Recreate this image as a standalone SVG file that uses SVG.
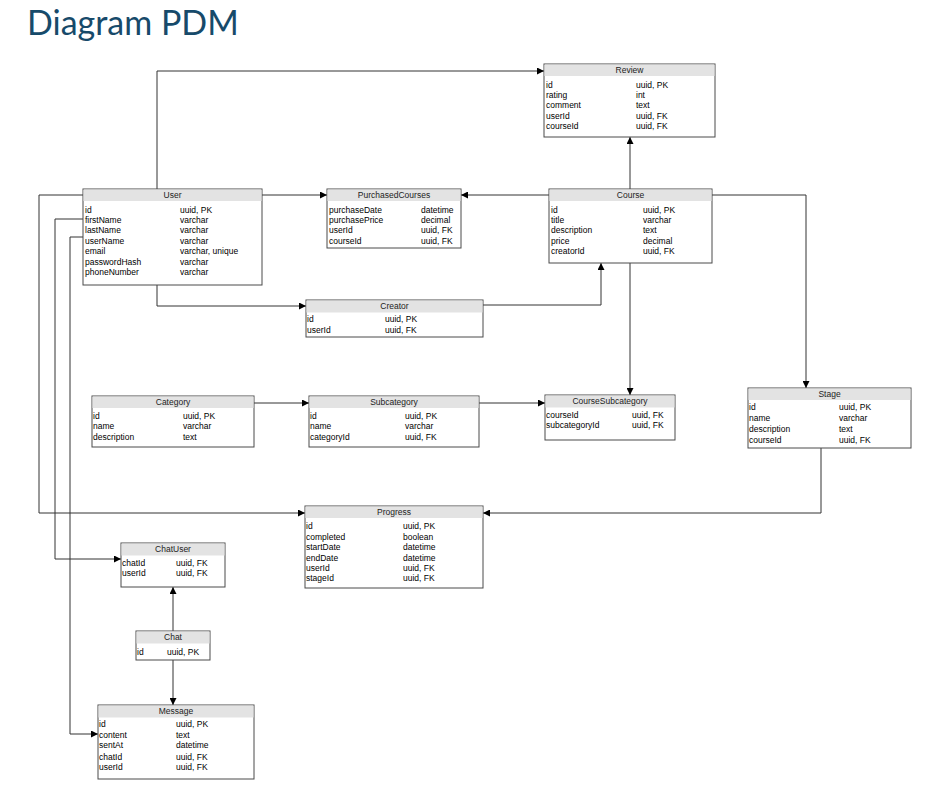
<svg xmlns="http://www.w3.org/2000/svg" width="935" height="796" viewBox="0 0 935 796">
<defs>
<marker id="arr" viewBox="0 0 10 10" refX="10" refY="5" markerWidth="7" markerHeight="7" markerUnits="userSpaceOnUse" orient="auto">
<path d="M0,0 L10,5 L0,10 z" fill="#000"/>
</marker>
<style>
.box{fill:#fff;stroke:#4a4a4a;stroke-width:1}
.hdr{fill:#e3e3e3;stroke:none}
.t{font-family:"Liberation Sans",Arial,sans-serif;font-size:8.5px;fill:#000}
.h{font-family:"Liberation Sans",Arial,sans-serif;font-size:8.5px;fill:#222;text-anchor:middle}
.c{fill:none;stroke:#333;stroke-width:1;marker-end:url(#arr)}
</style>
</defs>
<rect width="935" height="796" fill="#fff"/>
<text x="27" y="34.5" font-family="Lato,'Open Sans',sans-serif" font-size="34" fill="#174a6a">Diagram PDM</text>

<g id="connectors">
<path class="c" d="M157,189 V71 H544"/>
<path class="c" d="M262,195 H327"/>
<path class="c" d="M549,195 H461"/>
<path class="c" d="M630,189 V137"/>
<path class="c" d="M712,195 H806 V388"/>
<path class="c" d="M630,263 V395"/>
<path class="c" d="M483,305 H601 V263"/>
<path class="c" d="M157,285 V306 H306"/>
<path class="c" d="M254,403 H309"/>
<path class="c" d="M479,403 H545"/>
<path class="c" d="M821,448 V513 H483"/>
<path class="c" d="M83,195 H39 V513 H305"/>
<path class="c" d="M83,219 H55 V559 H121"/>
<path class="c" d="M83,237 H70 V734 H98"/>
<path class="c" d="M173,631 V587"/>
<path class="c" d="M173,660 V705"/>
</g>

<g id="Review">
<rect class="box" x="544" y="64" width="171" height="73"/>
<rect class="hdr" x="544.5" y="64.5" width="170" height="11.5"/>
<text class="h" x="629.5" y="73">Review</text>
<text class="t" x="546" y="88">id</text><text class="t" x="636" y="88">uuid, PK</text>
<text class="t" x="546" y="98">rating</text><text class="t" x="636" y="98">int</text>
<text class="t" x="546" y="108">comment</text><text class="t" x="636" y="108">text</text>
<text class="t" x="546" y="119">userId</text><text class="t" x="636" y="119">uuid, FK</text>
<text class="t" x="546" y="129">courseId</text><text class="t" x="636" y="129">uuid, FK</text>
</g>

<g id="User">
<rect class="box" x="83" y="189" width="179" height="96"/>
<rect class="hdr" x="83.5" y="189.5" width="178" height="11.5"/>
<text class="h" x="172.5" y="198">User</text>
<text class="t" x="85" y="213">id</text><text class="t" x="180" y="213">uuid, PK</text>
<text class="t" x="85" y="223">firstName</text><text class="t" x="180" y="223">varchar</text>
<text class="t" x="85" y="233">lastName</text><text class="t" x="180" y="233">varchar</text>
<text class="t" x="85" y="244">userName</text><text class="t" x="180" y="244">varchar</text>
<text class="t" x="85" y="254">email</text><text class="t" x="180" y="254">varchar, unique</text>
<text class="t" x="85" y="265">passwordHash</text><text class="t" x="180" y="265">varchar</text>
<text class="t" x="85" y="275">phoneNumber</text><text class="t" x="180" y="275">varchar</text>
</g>

<g id="PurchasedCourses">
<rect class="box" x="327" y="189" width="134" height="59"/>
<rect class="hdr" x="327.5" y="189.5" width="133" height="11.5"/>
<text class="h" x="394" y="198">PurchasedCourses</text>
<text class="t" x="329" y="213">purchaseDate</text><text class="t" x="421" y="213">datetime</text>
<text class="t" x="329" y="223">purchasePrice</text><text class="t" x="421" y="223">decimal</text>
<text class="t" x="329" y="233">userId</text><text class="t" x="421" y="233">uuid, FK</text>
<text class="t" x="329" y="244">courseId</text><text class="t" x="421" y="244">uuid, FK</text>
</g>

<g id="Course">
<rect class="box" x="549" y="189" width="163" height="74"/>
<rect class="hdr" x="549.5" y="189.5" width="162" height="11.5"/>
<text class="h" x="630.5" y="198">Course</text>
<text class="t" x="551" y="213">id</text><text class="t" x="643" y="213">uuid, PK</text>
<text class="t" x="551" y="223">title</text><text class="t" x="643" y="223">varchar</text>
<text class="t" x="551" y="233">description</text><text class="t" x="643" y="233">text</text>
<text class="t" x="551" y="244">price</text><text class="t" x="643" y="244">decimal</text>
<text class="t" x="551" y="254">creatorId</text><text class="t" x="643" y="254">uuid, FK</text>
</g>

<g id="Creator">
<rect class="box" x="306" y="300" width="177" height="37"/>
<rect class="hdr" x="306.5" y="300.5" width="176" height="12"/>
<text class="h" x="394.5" y="309">Creator</text>
<text class="t" x="307" y="322">id</text><text class="t" x="385" y="322">uuid, PK</text>
<text class="t" x="307" y="333">userId</text><text class="t" x="385" y="333">uuid, FK</text>
</g>

<g id="Category">
<rect class="box" x="92" y="396" width="162" height="51"/>
<rect class="hdr" x="92.5" y="396.5" width="161" height="11.5"/>
<text class="h" x="173" y="405">Category</text>
<text class="t" x="93" y="419">id</text><text class="t" x="183" y="419">uuid, PK</text>
<text class="t" x="93" y="429">name</text><text class="t" x="183" y="429">varchar</text>
<text class="t" x="93" y="440">description</text><text class="t" x="183" y="440">text</text>
</g>

<g id="Subcategory">
<rect class="box" x="309" y="396" width="170" height="51"/>
<rect class="hdr" x="309.5" y="396.5" width="169" height="11.5"/>
<text class="h" x="394" y="405">Subcategory</text>
<text class="t" x="310" y="419">id</text><text class="t" x="405" y="419">uuid, PK</text>
<text class="t" x="310" y="429">name</text><text class="t" x="405" y="429">varchar</text>
<text class="t" x="310" y="440">categoryId</text><text class="t" x="405" y="440">uuid, FK</text>
</g>

<g id="CourseSubcategory">
<rect class="box" x="545" y="395" width="130" height="45"/>
<rect class="hdr" x="545.5" y="395.5" width="129" height="12"/>
<text class="h" x="610" y="404">CourseSubcategory</text>
<text class="t" x="546" y="418">courseId</text><text class="t" x="632" y="418">uuid, FK</text>
<text class="t" x="546" y="428">subcategoryId</text><text class="t" x="632" y="428">uuid, FK</text>
</g>

<g id="Stage">
<rect class="box" x="748" y="388" width="163" height="60"/>
<rect class="hdr" x="748.5" y="388.5" width="162" height="11.5"/>
<text class="h" x="829.5" y="397">Stage</text>
<text class="t" x="749" y="410">id</text><text class="t" x="839" y="410">uuid, PK</text>
<text class="t" x="749" y="421">name</text><text class="t" x="839" y="421">varchar</text>
<text class="t" x="749" y="432">description</text><text class="t" x="839" y="432">text</text>
<text class="t" x="749" y="443">courseId</text><text class="t" x="839" y="443">uuid, FK</text>
</g>

<g id="Progress">
<rect class="box" x="305" y="506" width="178" height="82"/>
<rect class="hdr" x="305.5" y="506.5" width="177" height="11.5"/>
<text class="h" x="394" y="515">Progress</text>
<text class="t" x="306" y="529">id</text><text class="t" x="403" y="529">uuid, PK</text>
<text class="t" x="306" y="540">completed</text><text class="t" x="403" y="540">boolean</text>
<text class="t" x="306" y="550">startDate</text><text class="t" x="403" y="550">datetime</text>
<text class="t" x="306" y="561">endDate</text><text class="t" x="403" y="561">datetime</text>
<text class="t" x="306" y="571">userId</text><text class="t" x="403" y="571">uuid, FK</text>
<text class="t" x="306" y="581">stageId</text><text class="t" x="403" y="581">uuid, FK</text>
</g>

<g id="ChatUser">
<rect class="box" x="121" y="543" width="104" height="44"/>
<rect class="hdr" x="121.5" y="543.5" width="103" height="12"/>
<text class="h" x="173" y="552">ChatUser</text>
<text class="t" x="122" y="566">chatId</text><text class="t" x="176" y="566">uuid, FK</text>
<text class="t" x="122" y="576">userId</text><text class="t" x="176" y="576">uuid, FK</text>
</g>

<g id="Chat">
<rect class="box" x="136" y="631" width="74" height="29"/>
<rect class="hdr" x="136.5" y="631.5" width="73" height="12"/>
<text class="h" x="173" y="640">Chat</text>
<text class="t" x="137" y="655">id</text><text class="t" x="167" y="655">uuid, PK</text>
</g>

<g id="Message">
<rect class="box" x="98" y="705" width="156" height="74"/>
<rect class="hdr" x="98.5" y="705.5" width="155" height="12"/>
<text class="h" x="176" y="714">Message</text>
<text class="t" x="99" y="727">id</text><text class="t" x="176" y="727">uuid, PK</text>
<text class="t" x="99" y="738">content</text><text class="t" x="176" y="738">text</text>
<text class="t" x="99" y="748">sentAt</text><text class="t" x="176" y="748">datetime</text>
<text class="t" x="99" y="760">chatId</text><text class="t" x="176" y="760">uuid, FK</text>
<text class="t" x="99" y="770">userId</text><text class="t" x="176" y="770">uuid, FK</text>
</g>
</svg>
